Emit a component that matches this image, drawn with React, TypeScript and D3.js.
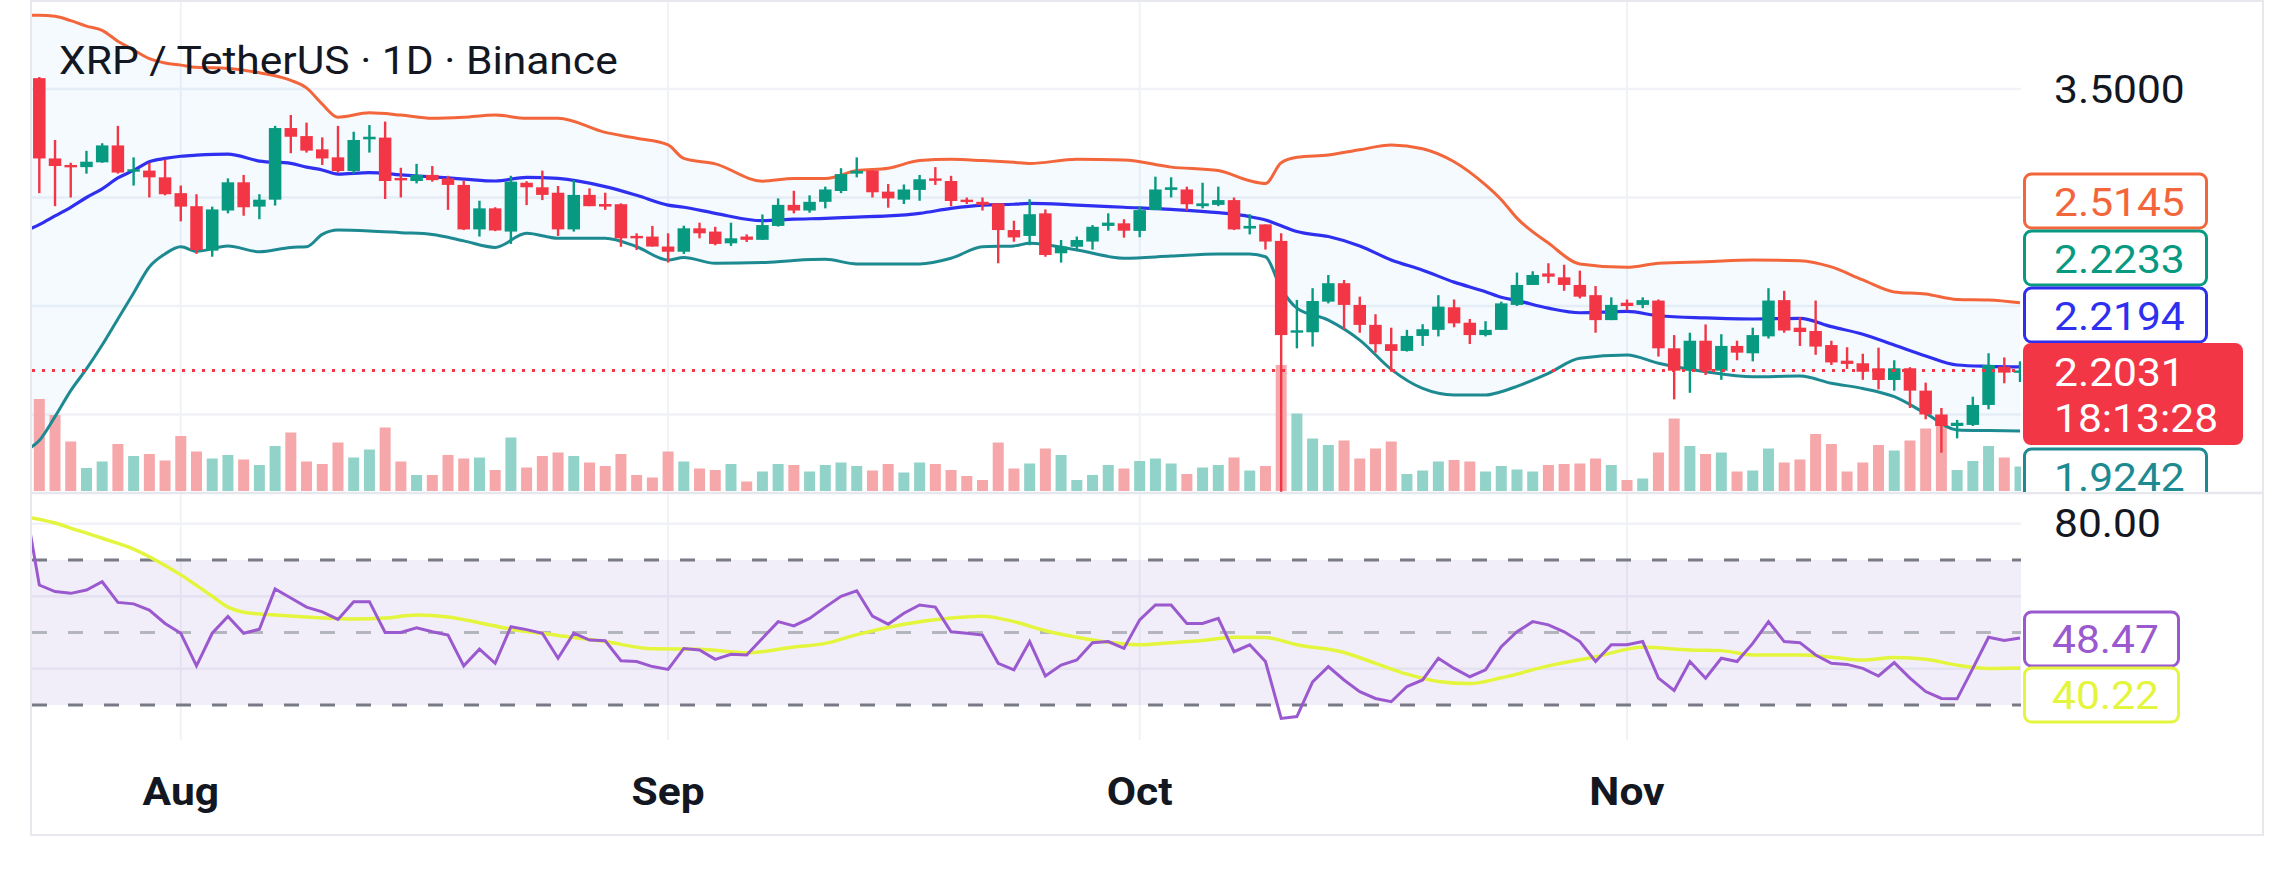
import React from "react";
import * as d3 from "d3";

// XRP / TetherUS daily candles, 23 Jul 2025 .. 26 Nov 2025
const startDay = new Date(2025, 6, 23);

const opens = [3.55, 3.18, 3.15, 3.14, 3.162, 3.24, 3.12, 3.124, 3.093, 3.02, 2.96, 2.755, 2.94, 3.07, 2.958, 2.99, 3.32, 3.283, 3.222, 3.185, 3.122, 3.268, 3.276, 3.09, 3.076, 3.104, 3.088, 3.058, 2.853, 2.95, 2.843, 3.068, 3.047, 3.022, 2.853, 3.012, 2.97, 2.969, 2.823, 2.82, 2.774, 2.75, 2.858, 2.843, 2.789, 2.82, 2.805, 2.869, 2.966, 2.94, 2.98, 3.03, 3.11, 3.124, 3.027, 2.99, 3.035, 3.088, 3.076, 2.99, 2.98, 2.973, 2.85, 2.823, 2.927, 2.743, 2.773, 2.797, 2.869, 2.881, 2.846, 2.942, 3.035, 3.037, 2.96, 2.966, 2.988, 2.857, 2.876, 2.8, 2.377, 2.379, 2.52, 2.605, 2.505, 2.413, 2.324, 2.293, 2.362, 2.39, 2.494, 2.423, 2.366, 2.39, 2.505, 2.597, 2.65, 2.632, 2.597, 2.55, 2.435, 2.515, 2.505, 2.525, 2.305, 2.202, 2.34, 2.202, 2.316, 2.282, 2.36, 2.527, 2.4, 2.385, 2.32, 2.248, 2.236, 2.213, 2.159, 2.213, 2.11, 2.0, 1.947, 1.952, 2.044, 2.22, 2.193];
const highs = [3.555, 3.265, 3.16, 3.215, 3.25, 3.33, 3.185, 3.16, 3.175, 3.055, 3.015, 2.958, 3.088, 3.104, 3.015, 3.33, 3.38, 3.345, 3.277, 3.33, 3.303, 3.334, 3.35, 3.137, 3.155, 3.145, 3.1, 3.077, 2.985, 2.955, 3.1, 3.075, 3.124, 3.053, 3.08, 3.042, 3.022, 2.973, 2.835, 2.869, 2.835, 2.87, 2.884, 2.865, 2.884, 2.83, 2.922, 2.996, 3.031, 3.01, 3.05, 3.135, 3.185, 3.124, 3.062, 3.06, 3.104, 3.14, 3.1, 3.0, 3.0, 2.973, 2.893, 2.992, 2.945, 2.804, 2.82, 2.873, 2.927, 2.9, 2.958, 3.096, 3.093, 3.05, 3.068, 3.05, 3.0, 2.923, 2.876, 2.835, 2.528, 2.582, 2.643, 2.62, 2.543, 2.462, 2.4, 2.39, 2.416, 2.55, 2.53, 2.44, 2.43, 2.52, 2.654, 2.66, 2.697, 2.69, 2.663, 2.592, 2.54, 2.53, 2.54, 2.53, 2.366, 2.377, 2.415, 2.37, 2.34, 2.4, 2.582, 2.57, 2.448, 2.525, 2.34, 2.31, 2.28, 2.308, 2.25, 2.218, 2.147, 2.03, 1.975, 2.082, 2.282, 2.263, 2.245];
const lows = [3.02, 2.96, 3.0, 3.11, 3.16, 3.11, 3.055, 3.0, 3.01, 2.89, 2.74, 2.727, 2.927, 2.916, 2.9, 2.963, 3.204, 3.207, 3.15, 3.115, 3.11, 3.207, 2.993, 3.0, 3.065, 3.073, 2.943, 2.85, 2.82, 2.845, 2.786, 2.965, 2.988, 2.823, 2.843, 2.96, 2.943, 2.773, 2.758, 2.774, 2.7, 2.74, 2.812, 2.78, 2.777, 2.795, 2.805, 2.866, 2.927, 2.93, 2.95, 3.02, 3.093, 3.0, 2.953, 2.97, 2.985, 3.058, 2.96, 2.97, 2.94, 2.697, 2.796, 2.78, 2.727, 2.7, 2.76, 2.76, 2.847, 2.815, 2.817, 2.942, 3.0, 2.94, 2.95, 2.96, 2.85, 2.83, 2.76, 1.58, 2.305, 2.313, 2.512, 2.393, 2.377, 2.285, 2.197, 2.29, 2.316, 2.36, 2.402, 2.325, 2.36, 2.39, 2.5, 2.597, 2.605, 2.57, 2.535, 2.377, 2.435, 2.48, 2.49, 2.267, 2.07, 2.1, 2.182, 2.16, 2.25, 2.245, 2.35, 2.377, 2.316, 2.275, 2.228, 2.21, 2.16, 2.116, 2.11, 2.03, 1.978, 1.824, 1.89, 1.947, 2.024, 2.144, 2.15];
const closes = [3.18, 3.145, 3.14, 3.165, 3.24, 3.115, 3.13, 3.093, 3.015, 2.958, 2.758, 2.945, 3.07, 2.955, 2.99, 3.32, 3.28, 3.216, 3.18, 3.122, 3.265, 3.28, 3.076, 3.08, 3.104, 3.08, 3.058, 2.853, 2.95, 2.848, 3.073, 3.047, 3.012, 2.853, 3.012, 2.96, 2.958, 2.812, 2.812, 2.774, 2.75, 2.858, 2.835, 2.786, 2.812, 2.805, 2.873, 2.966, 2.94, 2.98, 3.037, 3.108, 3.123, 3.024, 2.996, 3.037, 3.084, 3.077, 2.984, 2.98, 2.966, 2.85, 2.816, 2.923, 2.735, 2.773, 2.804, 2.865, 2.884, 2.847, 2.942, 3.037, 3.047, 2.969, 2.973, 2.988, 2.853, 2.869, 2.797, 2.366, 2.388, 2.523, 2.605, 2.505, 2.413, 2.324, 2.293, 2.362, 2.393, 2.497, 2.42, 2.366, 2.39, 2.512, 2.597, 2.643, 2.635, 2.597, 2.543, 2.435, 2.505, 2.5, 2.527, 2.305, 2.202, 2.34, 2.202, 2.316, 2.285, 2.366, 2.525, 2.387, 2.38, 2.313, 2.24, 2.233, 2.197, 2.159, 2.213, 2.11, 2.0, 1.947, 1.962, 2.044, 2.228, 2.193, 2.2031];
// volume, millions
const volumes = [184, 152, 99, 46, 59, 94, 70, 74, 61, 110, 79, 65, 72, 63, 52, 90, 117, 59, 54, 97, 67, 83, 127, 59, 32, 32, 72, 65, 67, 42, 107, 47, 70, 77, 70, 57, 50, 74, 32, 27, 79, 59, 45, 42, 54, 19, 39, 54, 52, 39, 52, 57, 50, 41, 54, 37, 57, 54, 42, 30, 22, 97, 45, 55, 85, 72, 22, 32, 52, 45, 60, 65, 55, 34, 47, 52, 67, 41, 50, 252, 155, 105, 92, 101, 65, 85, 99, 34, 41, 59, 62, 59, 39, 50, 43, 39, 52, 54, 55, 65, 52, 22, 25, 77, 145, 90, 74, 77, 39, 41, 85, 57, 63, 114, 94, 39, 57, 92, 81, 101, 125, 142, 42, 60, 90, 67, 49];

// Bollinger Bands (20, 2) read at these day indices (-1 = 22 Jul)
const bandDays = [-1, 0, 1, 2, 3, 4, 5, 6, 7, 8, 9, 10, 12, 14, 16, 17, 18, 19, 21, 23, 25, 27, 29, 31, 33, 36, 38, 40, 41, 43, 46, 48, 50, 52, 54, 56, 58, 60, 62, 63, 66, 69, 72, 75, 77, 78, 79, 80, 82, 84, 86, 88, 90, 92, 93, 94, 96, 98, 101, 103, 106, 109, 112, 114, 116, 118, 120, 122, 124, 126];
const bandUpper = [3.84, 3.84, 3.835, 3.815, 3.79, 3.77, 3.72, 3.68, 3.64, 3.62, 3.61, 3.6, 3.595, 3.575, 3.54, 3.505, 3.43, 3.37, 3.39, 3.38, 3.365, 3.37, 3.38, 3.365, 3.365, 3.3, 3.273, 3.242, 3.18, 3.155, 3.075, 3.088, 3.088, 3.124, 3.135, 3.17, 3.176, 3.17, 3.162, 3.157, 3.176, 3.173, 3.14, 3.124, 3.077, 3.065, 3.16, 3.185, 3.196, 3.22, 3.242, 3.225, 3.165, 3.058, 2.99, 2.905, 2.79, 2.694, 2.678, 2.697, 2.704, 2.712, 2.709, 2.68, 2.62, 2.565, 2.555, 2.53, 2.528, 2.5145];
const bandBasis = [2.843, 2.875, 2.915, 2.955, 3.0, 3.04, 3.09, 3.125, 3.165, 3.18, 3.19, 3.195, 3.2, 3.168, 3.157, 3.14, 3.127, 3.108, 3.115, 3.104, 3.095, 3.085, 3.076, 3.093, 3.088, 3.05, 3.01, 2.965, 2.955, 2.927, 2.893, 2.9, 2.904, 2.91, 2.915, 2.927, 2.95, 2.965, 2.969, 2.973, 2.965, 2.955, 2.945, 2.93, 2.912, 2.896, 2.87, 2.843, 2.82, 2.777, 2.712, 2.665, 2.61, 2.566, 2.54, 2.525, 2.49, 2.469, 2.475, 2.455, 2.445, 2.44, 2.443, 2.405, 2.37, 2.32, 2.27, 2.228, 2.222, 2.2194];
const bandLower = [1.83, 1.88, 1.99, 2.11, 2.21, 2.32, 2.44, 2.56, 2.68, 2.74, 2.773, 2.752, 2.777, 2.75, 2.77, 2.773, 2.83, 2.85, 2.846, 2.838, 2.83, 2.8, 2.77, 2.835, 2.812, 2.812, 2.773, 2.712, 2.724, 2.697, 2.7, 2.71, 2.715, 2.694, 2.694, 2.694, 2.72, 2.773, 2.777, 2.789, 2.758, 2.72, 2.73, 2.74, 2.74, 2.727, 2.58, 2.49, 2.435, 2.343, 2.208, 2.12, 2.09, 2.09, 2.105, 2.13, 2.19, 2.259, 2.274, 2.236, 2.197, 2.174, 2.177, 2.144, 2.12, 2.082, 2.005, 1.929, 1.926, 1.9242];

// RSI 14
const rsiBefore = 88;
const rsiValues = [63.1, 61.3, 60.8, 61.7, 64, 58.3, 57.9, 56.2, 52.5, 49.8, 40.8, 49.8, 54.4, 49.8, 50.9, 62, 59.5, 57, 55.7, 53.6, 58.5, 58.5, 50, 50, 51.3, 50.2, 49.3, 40.8, 45.4, 41.5, 51.6, 50.8, 49.8, 42.9, 49.8, 47.9, 47.7, 42.2, 42, 40.6, 39.8, 45.6, 45.2, 42.6, 44, 43.8, 48.4, 53, 51.8, 53.9, 57, 60, 61.5, 54.5, 52.3, 55.3, 57.6, 57, 50.2, 49.8, 49.3, 41.5, 39.7, 47.5, 38, 41, 42.4, 47.2, 47.5, 45.6, 53.5, 57.6, 57.6, 52.5, 52.5, 53.9, 44.7, 46.6, 42, 26.3, 26.8, 36.4, 40.6, 36.9, 33.7, 31.8, 30.9, 35.1, 36.9, 42.9, 40.1, 37.8, 39.7, 46.1, 50.2, 53, 52.1, 50.2, 47.5, 42, 46.6, 46.6, 47.5, 37.4, 34, 42, 37.4, 42.9, 42, 47, 53, 47.5, 47.2, 43.8, 41.5, 41.2, 40.1, 38, 41.7, 37.4, 33.7, 31.8, 31.7, 40.1, 48.7, 47.8, 48.47];
// RSI based MA read at these day indices
const rsiMaDays = [-1, 1, 2, 4, 6, 8, 9, 10, 11, 12, 13, 15, 18, 20, 22, 24, 26, 28, 30, 33, 36, 39, 42, 45, 48, 50, 52, 55, 58, 60, 62, 64, 66, 68, 70, 72, 74, 76, 78, 80, 83, 85, 87, 89, 91, 93, 96, 99, 102, 105, 107, 109, 112, 114, 116, 118, 120, 122, 124, 126];
const rsiMaValues = [82, 80.2, 78.8, 76, 73, 68.5, 65.9, 63, 60, 57, 55.6, 54.8, 54, 53.7, 54, 54.8, 54.3, 52.7, 50.9, 49.2, 47.5, 45.5, 45.4, 44.4, 46, 47, 49.4, 52.3, 54, 54.5, 53, 50.5, 48.7, 47.3, 46.6, 47.2, 47.8, 48.7, 48.6, 46.6, 44.5, 41.5, 38.5, 36.5, 35.9, 37.5, 40.8, 43.3, 45.9, 45.2, 45, 43.8, 43.8, 43.2, 42.4, 43.1, 42.6, 41, 40.1, 40.22];

const priceTicks = [3.5, 3.0, 2.5, 2.0];
const rsiGridTicks = [80, 60, 40];
const rsiBandLevels = [70, 50, 30];
const titleText = "XRP / TetherUS · 1D · Binance";
const countdown = "18:13:28";
const lastHighLabel = 2.2233;

const UP = "#089981";
const DOWN = "#F23645";
const VOL_UP = "#92d3c9";
const VOL_DOWN = "#f6a7a9";
const C_UPPER = "#f3663b";
const C_BASIS = "#2f2ff0";
const C_LOWER = "#1d8a92";
const C_RSI = "#9b59cf";
const C_RSIMA = "#e3f53c";
const GRID = "#f0f2f7";
const FONT = "Roboto, 'Noto Sans', sans-serif";
const SX = 1.12; // horizontal stretch of the screenshot text

const W = 2292;
const H = 870;
const plotL = 32;
const plotR = 2021;
const mainTop = 2;
const mainBot = 493;
const rsiBot = 740;

const Txt = ({ x, y, anchor = "start", size = 38, weight = 400, fill = "#131722", children }: any) => (
  <text
    transform={`translate(${x},${y}) scale(${SX},1)`}
    textAnchor={anchor}
    fontSize={size}
    fontWeight={weight}
    fill={fill}
    fontFamily={FONT}
  >
    {children}
  </text>
);

export default function App() {
  const n = closes.length;
  const dates = d3.timeDay.range(startDay, d3.timeDay.offset(startDay, n));
  const monthStarts = dates.map((d, i) => ({ d, i })).filter((o) => o.d.getDate() === 1);

  const x = d3.scaleLinear().domain([0, 126]).range([39.3, 2020]);
  const yP = d3.scaleLinear().domain([2.0, 3.5]).range([414.5, 89]);
  const yV = d3.scaleLinear().domain([0, 300]).range([491, 341]);
  const yR = d3.scaleLinear().domain([30, 70]).range([705, 560]);

  const bodyW = 12.5;
  const volW = 11;

  const bandPts = bandDays.map((d, k) => ({ d, u: bandUpper[k], m: bandBasis[k], l: bandLower[k] }));
  const bandArea = d3
    .area<any>()
    .x((p) => x(p.d))
    .y0((p) => yP(p.l))
    .y1((p) => yP(p.u))
    .curve(d3.curveMonotoneX)(bandPts);
  const bandLine = (key: string) =>
    d3
      .line<any>()
      .x((p) => x(p.d))
      .y((p) => yP(p[key]))
      .curve(d3.curveMonotoneX)(bandPts) as string;

  const rsiPts: [number, number][] = [[-1, rsiBefore], ...rsiValues.map((v, i) => [i, v] as [number, number])];
  const rsiPath = d3
    .line<[number, number]>()
    .x((p) => x(p[0]))
    .y((p) => yR(p[1]))(rsiPts) as string;
  const maPath = d3
    .line<number>()
    .x((_, k) => x(rsiMaDays[k]))
    .y((v) => yR(v))
    .curve(d3.curveMonotoneX)(rsiMaValues) as string;

  const last = closes[n - 1];
  const fmt4 = d3.format(".4f");
  const fmt2 = d3.format(".2f");

  const badgeX = 2024.5;
  const badgeW = 182;
  const outlineBadges = [
    { v: bandUpper[bandUpper.length - 1], c: C_UPPER, top: 174 },
    { v: lastHighLabel, c: UP, top: 231 },
    { v: bandBasis[bandBasis.length - 1], c: C_BASIS, top: 288 },
    { v: bandLower[bandLower.length - 1], c: C_LOWER, top: 449 },
  ];
  const rsiBadges = [
    { v: rsiValues[rsiValues.length - 1], c: C_RSI, top: 612 },
    { v: rsiMaValues[rsiMaValues.length - 1], c: C_RSIMA, top: 668 },
  ];

  return (
    <svg width={W} height={H} style={{ display: "block", background: "#fff", position: "absolute", left: 0, top: 0 }}>
      <defs>
        <clipPath id="mainClip">
          <rect x={plotL} y={mainTop} width={plotR - plotL} height={mainBot - mainTop} />
        </clipPath>
        <clipPath id="rsiClip">
          <rect x={plotL} y={mainBot} width={plotR - plotL} height={rsiBot - mainBot} />
        </clipPath>
        <clipPath id="axisClip">
          <rect x={plotR} y={mainTop} width={W - plotR} height={mainBot - 1 - mainTop} />
        </clipPath>
      </defs>

      {/* grid */}
      {monthStarts.map((o) => (
        <line key={o.i} x1={x(o.i)} x2={x(o.i)} y1={mainTop} y2={rsiBot} stroke={GRID} strokeWidth={2} />
      ))}
      {priceTicks.map((t) => (
        <line key={t} x1={plotL} x2={plotR} y1={yP(t)} y2={yP(t)} stroke={GRID} strokeWidth={2.5} />
      ))}
      {rsiGridTicks.map((t) => (
        <line key={t} x1={plotL} x2={plotR} y1={yR(t)} y2={yR(t)} stroke={GRID} strokeWidth={2.5} />
      ))}

      {/* main pane */}
      <g clipPath="url(#mainClip)">
        <path d={bandArea as string} fill="rgba(33,150,243,0.05)" />
        {volumes.map((v, i) => (
          <rect
            key={i}
            x={x(i) - volW / 2}
            y={yV(v)}
            width={volW}
            height={yV(0) - yV(v)}
            fill={closes[i] >= opens[i] ? VOL_UP : VOL_DOWN}
          />
        ))}
        <path d={bandLine("u")} fill="none" stroke={C_UPPER} strokeWidth={3} />
        <path d={bandLine("m")} fill="none" stroke={C_BASIS} strokeWidth={3.2} />
        <path d={bandLine("l")} fill="none" stroke={C_LOWER} strokeWidth={3} />
        {opens.map((o, i) => {
          const c = closes[i];
          const col = c >= o ? UP : DOWN;
          const top = yP(Math.max(o, c));
          const bot = yP(Math.min(o, c));
          return (
            <g key={i}>
              <line x1={x(i)} x2={x(i)} y1={yP(highs[i])} y2={yP(lows[i])} stroke={col} strokeWidth={2.4} />
              <rect x={x(i) - bodyW / 2} y={top} width={bodyW} height={Math.max(2.4, bot - top)} fill={col} />
            </g>
          );
        })}
        <line
          x1={plotL}
          x2={plotR}
          y1={yP(last)}
          y2={yP(last)}
          stroke={DOWN}
          strokeWidth={3}
          strokeDasharray="3 7"
        />
      </g>

      {/* RSI pane */}
      <rect x={plotL} y={yR(70)} width={plotR - plotL} height={yR(30) - yR(70)} fill="rgba(126,87,194,0.1)" />
      {rsiBandLevels.map((t) => (
        <line
          key={t}
          x1={plotL}
          x2={plotR}
          y1={yR(t)}
          y2={yR(t)}
          stroke={t === 50 ? "#b4b6bd" : "#787b86"}
          strokeWidth={3}
          strokeDasharray="15 21"
        />
      ))}
      <g clipPath="url(#rsiClip)">
        <path d={maPath} fill="none" stroke={C_RSIMA} strokeWidth={3.5} />
        <path d={rsiPath} fill="none" stroke={C_RSI} strokeWidth={3} />
      </g>

      {/* frame and pane separator */}
      <line x1={31} x2={2263} y1={mainBot} y2={mainBot} stroke="#e6e8ee" strokeWidth={2.5} />
      <rect x={31} y={1} width={2232} height={834} fill="none" stroke="#e6e8ee" strokeWidth={2} />

      {/* title */}
      <Txt x={59} y={74}>{titleText}</Txt>

      {/* price scale */}
      <Txt x={2054} y={103}>{fmt4(priceTicks[0])}</Txt>
      <g clipPath="url(#axisClip)">
        {outlineBadges.map((b) => (
          <g key={b.c}>
            <rect x={badgeX} y={b.top} width={badgeW} height={54} rx={7} fill="#fff" stroke={b.c} strokeWidth={3} />
            <Txt x={2054} y={b.top + 42} fill={b.c}>{fmt4(b.v)}</Txt>
          </g>
        ))}
        <rect x={badgeX - 1.5} y={343} width={220} height={102} rx={8} fill={DOWN} />
        <Txt x={2054} y={386} fill="#fff">{fmt4(last)}</Txt>
        <Txt x={2054} y={432} fill="#fff">{countdown}</Txt>
      </g>

      {/* RSI scale */}
      <Txt x={2054} y={537}>{fmt2(rsiGridTicks[0])}</Txt>
      {rsiBadges.map((b) => (
        <g key={b.c}>
          <rect x={badgeX} y={b.top} width={154} height={54} rx={7} fill="#fff" stroke={b.c} strokeWidth={3} />
          <Txt x={2052} y={b.top + 41} fill={b.c}>{fmt2(b.v)}</Txt>
        </g>
      ))}

      {/* time axis */}
      {monthStarts.map((o) => (
        <Txt key={o.i} x={x(o.i)} y={805} anchor="middle" weight={700}>
          {d3.timeFormat("%b")(o.d)}
        </Txt>
      ))}
    </svg>
  );
}
